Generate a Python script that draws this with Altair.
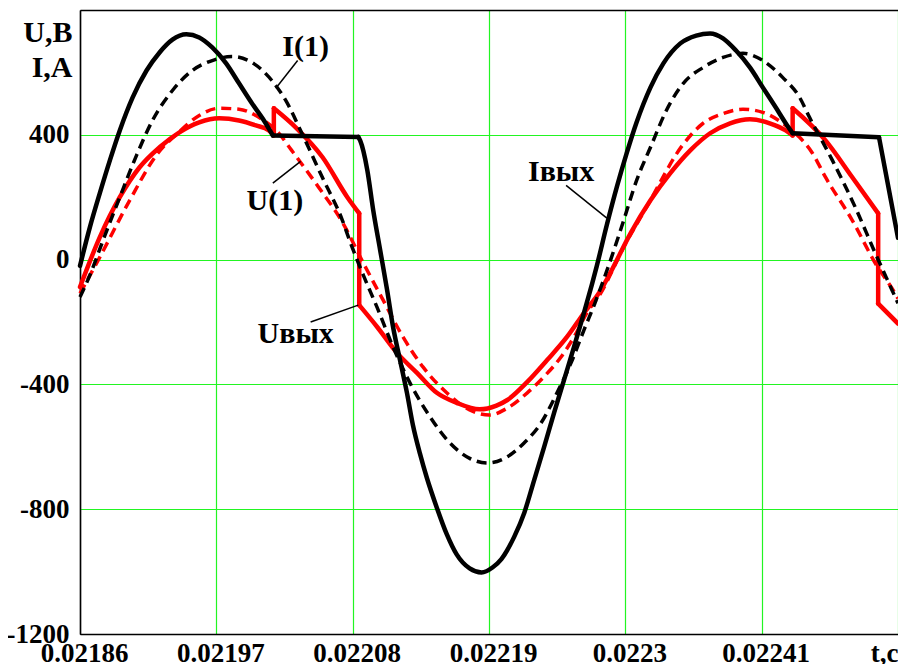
import altair as alt
import pandas as pd

T0 = 0.02186  # start of the time window, s
X_TICKS = [0.02186, 0.02197, 0.02208, 0.02219, 0.0223, 0.02241, 0.02252]
Y_TICKS = [-1200, -800, -400, 0, 400, 800]

# ---- Iout (black solid): time offset from T0 in microseconds, value in A
iout_us = [0, 8.0, 16.0, 24.1, 32.1, 42.5, 53.7, 64.2, 74.6, 85.8, 96.2, 106.7, 117.9,
           128.3, 138.7, 148.4, 155.6, 224.5, 226.1, 231.8, 236.6, 242.2, 247.8, 252.6,
           258.2, 263.8, 268.6, 274.3, 279.9, 287.9, 295.9, 303.9, 314.4, 324.0, 332.8,
           340.0, 350.4, 358.5, 366.5, 374.5, 382.5, 390.5, 398.6, 406.6, 413.0, 417.0,
           425.0, 433.1, 441.1, 449.1, 460.3, 470.7, 484.4, 497.2, 508.4, 518.8, 529.3,
           540.5, 550.9, 561.3, 569.4, 575.0, 644.7, 660.0]
iout_val = [-20, 104, 213, 318, 414, 520, 606, 664, 705, 722, 712, 680, 629,
            565, 501, 446, 398, 393, 381, 287, 158, 30, -98, -216,
            -322, -427, -530, -622, -700, -795, -880, -945, -990, -1003, -987,
            -960, -888, -811, -706, -600, -491, -386, -280, -171, -80, -20,
            110, 232, 341, 440, 552, 629, 693, 718, 725, 709, 670,
            616, 552, 488, 437, 405, 392, 70]
# indices of corners; smooth pieces lie between them
iout_breaks = [0, 16, 17, 61, 62, 63]

# ---- I(1) (black dashed)
i1_us = [0, 8.0, 18.4, 32.1, 45.7, 58.5, 74.6, 90.6, 106.7, 122.7, 138.7, 154.8, 166.0,
         179.6, 195.7, 211.7, 218.1, 228.6, 239.8, 252.6, 266.2, 282.3, 298.3, 314.4,
         328.8, 344.8, 358.5, 372.1, 384.9, 396.2, 406.6, 415.4, 428.2, 438.7, 449.1,
         460.3, 473.1, 486.8, 502.8, 518.8, 534.9, 550.9, 566.9, 580.6, 588.6, 607.1,
         625.5, 641.6, 655.2, 660.0]
i1_val = [-120, -50, 60, 200, 335, 446, 542, 606, 638, 651, 632, 574, 510,
          400, 262, 126, 55, -50, -154, -280, -395, -503, -587, -637,
          -652, -632, -587, -523, -427, -331, -226, -140, 0, 126, 254,
          360, 478, 565, 616, 648, 661, 638, 584, 520, 456, 318,
          168, 21, -98, -140]

# ---- Uout (red solid): value in V
uout_us = [0, 16.0, 32.1, 48.1, 64.2, 80.2, 96.2, 112.3, 128.3, 141.9, 152.4, 156.4,
           156.4, 174.0, 195.7, 215.7, 225.3, 225.3, 239.8, 255.8, 271.9, 287.9, 303.9,
           322.4, 336.0, 344.8, 360.9, 376.9, 392.9, 406.6, 420.2, 428.2, 444.3, 460.3,
           476.3, 492.4, 508.4, 524.5, 540.5, 556.5, 569.4, 575.0, 575.0, 601.5, 623.1,
           644.0, 644.0, 660.0]
uout_val = [-88, 72, 200, 296, 360, 408, 440, 453, 446, 430, 414, 398,
            485, 424, 328, 200, 148, -146, -216, -299, -363, -427, -459,
            -480, -468, -450, -392, -322, -248, -171, -98, -40, 85, 190,
            277, 350, 405, 437, 450, 437, 414, 398, 485, 382, 264,
            148, -141, -205]
uout_breaks = [0, 11, 12, 16, 17, 41, 42, 45, 46, 47]

# ---- U(1) (red dashed)
u1_us = [0, 16.0, 40.1, 61.7, 80.2, 96.2, 112.3, 128.3, 144.3, 160.4, 170.8, 192.5,
         211.7, 228.6, 244.6, 260.6, 276.7, 295.9, 314.4, 330.4, 344.8, 360.9, 374.5,
         388.1, 398.6, 409.0, 420.2, 438.7, 457.1, 486.8, 502.8, 518.8, 534.9, 550.9,
         567.0, 580.6, 591.0, 601.5, 623.1, 641.6, 657.6, 660.0]
u1_val = [-108, 8, 190, 335, 410, 462, 485, 482, 456, 405, 350, 232,
          120, -11, -130, -248, -344, -427, -482, -498, -476, -427, -375,
          -312, -248, -171, -107, 40, 168, 370, 437, 468, 482, 472,
          437, 392, 341, 264, 126, -11, -108, -125]

# ---- annotations: text, time offset (us), value
ann_text = ["I(1)", "U(1)", "Iвых", "Uвых"]
ann_us = [182.0, 157.2, 388.2, 174.0]
ann_val = [680, 187, 280, -238]

# ---- leader lines: from (us, val) to (us2, val2)
lead_us = [175.6, 155.6, 392.2, 186.1]
lead_val = [638, 245, 238, -200]
lead_us2 = [158.0, 178.0, 425.1, 224.5]
lead_val2 = [549, 315, 133, -146]


def frame(us, vals, breaks=None):
    if breaks is None:
        breaks = [0, len(us) - 1]
    rows = []
    for k in range(len(breaks) - 1):
        for j in range(breaks[k], breaks[k + 1] + 1):
            rows.append({"t": T0 + us[j] * 1e-6, "v": vals[j], "i": j, "seg": k})
    return pd.DataFrame(rows)


FONT = "Liberation Serif"
GREEN = "#22f522"

x_axis = alt.Axis(
    values=X_TICKS, title=None, grid=True, ticks=False,
    gridColor={"condition": {"test": "datum.value < 0.02187", "value": "black"}, "value": GREEN},
    gridWidth=1.2,
    domainColor="black", domainWidth=1.5,
    labelFont=FONT, labelFontWeight="bold", labelFontSize=27, labelColor="black",
    labelPadding=6, labelFlush=False, labelOverlap=False,
    labelExpr="datum.value > 0.0225 ? 't,c' : '' + datum.value",
    labelAlign={"condition": {"test": "datum.value > 0.0225", "value": "right"}, "value": "center"},
    labelOffset={"condition": {"test": "datum.value > 0.0225", "value": 0}, "value": 4},
)
y_axis = alt.Axis(
    values=Y_TICKS, grid=True, ticks=False,
    gridColor={"condition": {"test": "datum.value > 700 || datum.value < -1100", "value": "black"},
               "value": GREEN},
    gridWidth={"condition": {"test": "datum.value > 700", "value": 1.5}, "value": 1.2},
    domainColor="black", domainWidth=1.5,
    labelFont=FONT, labelFontWeight="bold", labelFontSize=27, labelColor="black",
    labelPadding=11, labelOverlap=False,
    labelExpr="datum.value > 700 ? '' : '' + datum.value",
    title=["U,B", "I,A"], titleAngle=0, titleFont=FONT, titleFontWeight="bold",
    titleFontSize=30, titleColor="black", titleAlign="right", titleBaseline="alphabetic",
    titleX=-8, titleY=31, titleLineHeight=35,
)

X = alt.X("t:Q", scale=alt.Scale(domain=[X_TICKS[0], X_TICKS[-1]], nice=False, zero=False),
          axis=x_axis)
Y = alt.Y("v:Q", scale=alt.Scale(domain=[-1200, 800], nice=False, zero=False), axis=y_axis)


def line(df, color, dash=None, width=4.0):
    kw = dict(color=color, strokeWidth=width, strokeJoin="round",
              interpolate="monotone")
    if dash:
        kw["strokeDash"] = dash
        kw["strokeCap"] = "butt"
    else:
        kw["strokeCap"] = "round"
    return alt.Chart(df).mark_line(**kw).encode(
        x=X, y=Y, detail="seg:N", order=alt.Order("i:Q"))


red_solid = line(frame(uout_us, uout_val, uout_breaks), "#ff0000", width=4.5)
red_dash = line(frame(u1_us, u1_val), "#ff0000", dash=[10, 6], width=3.5)
black_dash = line(frame(i1_us, i1_val), "black", dash=[10, 6], width=3.5)
black_solid = line(frame(iout_us, iout_val, iout_breaks), "black", width=4.5)

lead_df = pd.DataFrame({
    "t": [T0 + u * 1e-6 for u in lead_us], "v": lead_val,
    "t2": [T0 + u * 1e-6 for u in lead_us2], "v2": lead_val2,
})
leaders = alt.Chart(lead_df).mark_rule(color="black", strokeWidth=1.5).encode(
    x=X, y=Y, x2="t2:Q", y2="v2:Q")

ann_df = pd.DataFrame({"t": [T0 + u * 1e-6 for u in ann_us], "v": ann_val, "txt": ann_text})
labels = alt.Chart(ann_df).mark_text(
    font=FONT, fontWeight="bold", fontSize=30, color="black",
    align="center", baseline="middle").encode(x=X, y=Y, text="txt:N")

chart = alt.layer(red_solid, red_dash, black_dash, black_solid, leaders, labels).properties(
    width=818, height=624, autosize="none",
    padding={"left": 72, "top": 2, "right": 0, "bottom": 40},
    background="white",
).configure_view(stroke=None)

chart.save("out.html", embed_options={"renderer": "svg", "actions": False})
